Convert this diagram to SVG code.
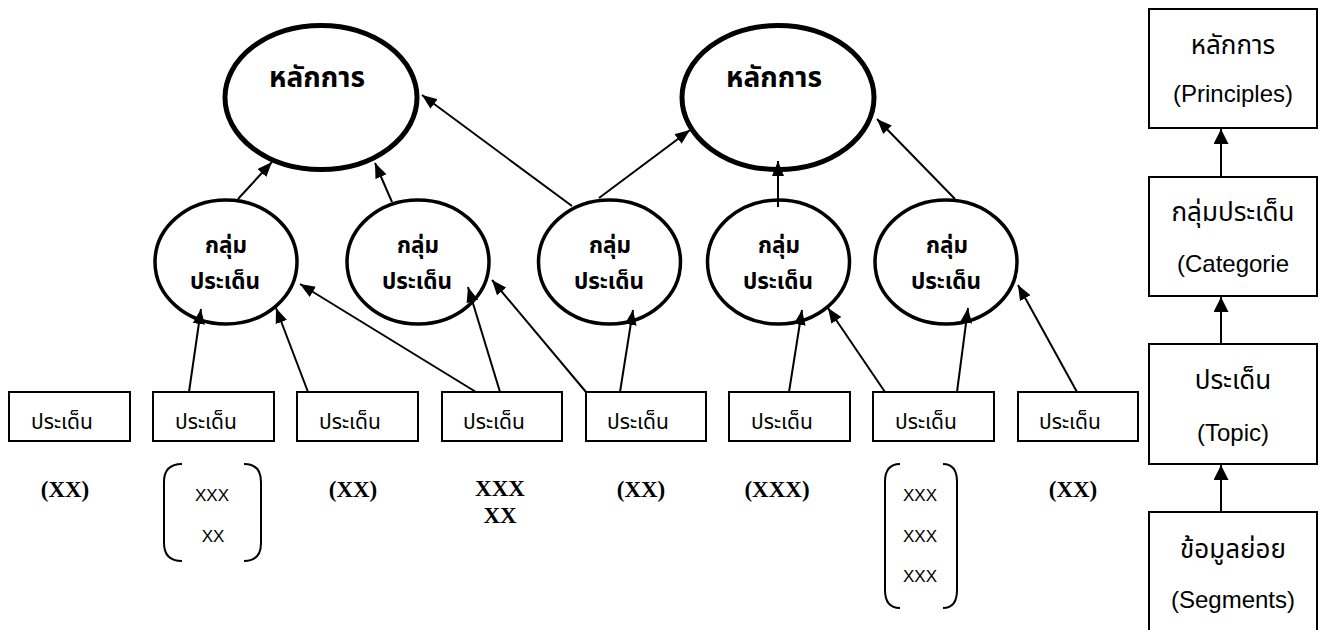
<svg xmlns="http://www.w3.org/2000/svg" width="1321" height="630" viewBox="0 0 1321 630">
<style>
.big{fill:#fff;stroke:#000;stroke-width:5}
.mid{fill:#fff;stroke:#000;stroke-width:3.5}
.box{fill:#fff;stroke:#000;stroke-width:2}
.th{font-family:"Noto Sans Thai","Noto Sans","DejaVu Sans",sans-serif;fill:#000;text-anchor:middle}
.tb{font-weight:bold}
.bt{font-size:28px}
.mt{font-size:22.5px}
.st{font-size:21px}
.lt{font-size:26px}
.lbl{font-family:"Liberation Serif",serif;font-weight:bold;font-size:23px;fill:#000;text-anchor:middle}
.sx{font-family:"Liberation Sans",sans-serif;font-size:17px;fill:#000;text-anchor:middle}
.leg{font-family:"Liberation Sans",sans-serif;font-size:24px;fill:#000;text-anchor:middle}
.br{fill:none;stroke:#000;stroke-width:2}
.cn{stroke:#000;stroke-width:2;fill:none;marker-end:url(#ah)}
.cl{stroke:#000;stroke-width:2;fill:none;marker-end:url(#ahL)}
</style>
<defs>
<marker id="ah" viewBox="0 0 15 12" refX="15" refY="6" markerWidth="15" markerHeight="12" markerUnits="userSpaceOnUse" orient="auto"><path d="M0,0 L15,6 L0,12 z" fill="#000"/></marker>
<marker id="ahL" viewBox="0 0 15 15" refX="15" refY="7.5" markerWidth="15" markerHeight="15" markerUnits="userSpaceOnUse" orient="auto"><path d="M0,0 L15,7.5 L0,15 z" fill="#000"/></marker>
</defs>
<rect width="1321" height="630" fill="#fff"/>

<g id="principle1"><ellipse class="big" cx="321" cy="97.5" rx="96" ry="72"/><text class="th tb bt" x="317" y="87">หลักการ</text></g>
<g id="principle2"><ellipse class="big" cx="778" cy="97.5" rx="96" ry="72"/><text class="th tb bt" x="774" y="87">หลักการ</text></g>

<g id="category1"><ellipse class="mid" cx="226" cy="262" rx="71" ry="62"/><text class="th tb mt" x="226" y="253">กลุ่ม</text><text class="th tb mt" x="225" y="289">ประเด็น</text></g>
<g id="category2"><ellipse class="mid" cx="418" cy="262" rx="71" ry="62"/><text class="th tb mt" x="418" y="253">กลุ่ม</text><text class="th tb mt" x="417" y="289">ประเด็น</text></g>
<g id="category3"><ellipse class="mid" cx="609.5" cy="262" rx="71" ry="62"/><text class="th tb mt" x="610" y="253">กลุ่ม</text><text class="th tb mt" x="609" y="289">ประเด็น</text></g>
<g id="category4"><ellipse class="mid" cx="778.5" cy="262" rx="71" ry="62"/><text class="th tb mt" x="779" y="253">กลุ่ม</text><text class="th tb mt" x="778" y="289">ประเด็น</text></g>
<g id="category5"><ellipse class="mid" cx="946" cy="262" rx="71" ry="62"/><text class="th tb mt" x="947" y="253">กลุ่ม</text><text class="th tb mt" x="946" y="289">ประเด็น</text></g>

<g id="topic1"><rect class="box" x="9" y="392" width="121" height="49"/><text class="th st" x="62" y="429">ประเด็น</text></g>
<g id="topic2"><rect class="box" x="153" y="392" width="121" height="49"/><text class="th st" x="206" y="429">ประเด็น</text></g>
<g id="topic3"><rect class="box" x="297" y="392" width="121" height="49"/><text class="th st" x="350" y="429">ประเด็น</text></g>
<g id="topic4"><rect class="box" x="442" y="392" width="120" height="49"/><text class="th st" x="494" y="429">ประเด็น</text></g>
<g id="topic5"><rect class="box" x="586" y="392" width="120" height="49"/><text class="th st" x="638" y="429">ประเด็น</text></g>
<g id="topic6"><rect class="box" x="729" y="392" width="121" height="49"/><text class="th st" x="782" y="429">ประเด็น</text></g>
<g id="topic7"><rect class="box" x="873" y="392" width="121" height="49"/><text class="th st" x="926" y="429">ประเด็น</text></g>
<g id="topic8"><rect class="box" x="1018" y="392" width="120" height="49"/><text class="th st" x="1070" y="429">ประเด็น</text></g>

<g id="counts">
<text class="lbl" x="65" y="497">(XX)</text>
<text class="lbl" x="353" y="497">(XX)</text>
<text class="lbl" x="500" y="496">XXX</text>
<text class="lbl" x="500" y="523">XX</text>
<text class="lbl" x="641" y="497">(XX)</text>
<text class="lbl" x="777" y="497">(XXX)</text>
<text class="lbl" x="1073" y="497">(XX)</text>
</g>

<g id="bracket1">
<path class="br" d="M182,464 Q164,464 164,482 L164,543 Q164,561 182,561"/>
<path class="br" d="M244,464 Q261,464 261,482 L261,543 Q261,561 244,561"/>
<text class="sx" x="212" y="501">XXX</text>
<text class="sx" x="213" y="542">XX</text>
</g>
<g id="bracket2">
<path class="br" d="M900,464 Q885,464 885,482 L885,590 Q885,608 900,608"/>
<path class="br" d="M943,464 Q957,464 957,482 L957,590 Q957,608 943,608"/>
<text class="sx" x="920" y="501">XXX</text>
<text class="sx" x="920" y="542">XXX</text>
<text class="sx" x="920" y="582">XXX</text>
</g>

<g id="legend-principles"><rect class="box" x="1149" y="9" width="168" height="119"/><text class="th lt" x="1233" y="54">หลักการ</text><text class="leg" x="1233" y="102">(Principles)</text></g>
<g id="legend-categories"><rect class="box" x="1149" y="177" width="168" height="119"/><text class="th lt" x="1233" y="221">กลุ่มประเด็น</text><text class="leg" x="1233" y="272">(Categorie</text></g>
<g id="legend-topic"><rect class="box" x="1149" y="344" width="168" height="120"/><text class="th lt" x="1233" y="389">ประเด็น</text><text class="leg" x="1233" y="441">(Topic)</text></g>
<g id="legend-segments"><rect class="box" x="1149" y="512" width="168" height="140"/><text class="th lt" x="1233" y="558">ข้อมูลย่อย</text><text class="leg" x="1233" y="608">(Segments)</text></g>

<g id="connectors">
<line class="cn" x1="238" y1="199" x2="272" y2="162"/>
<line class="cn" x1="392" y1="202" x2="375" y2="163"/>
<line class="cn" x1="572" y1="206" x2="422" y2="95"/>
<line class="cn" x1="599" y1="198" x2="690" y2="130"/>
<line class="cn" x1="778" y1="207" x2="778" y2="161"/>
<line class="cn" x1="955" y1="199" x2="877" y2="119"/>
<line class="cn" x1="189" y1="392" x2="201" y2="309"/>
<line class="cn" x1="308" y1="392" x2="276" y2="308"/>
<line class="cn" x1="476" y1="392" x2="300" y2="284"/>
<line class="cn" x1="500" y1="392" x2="468" y2="287"/>
<line class="cn" x1="586" y1="392" x2="492" y2="280"/>
<line class="cn" x1="620" y1="392" x2="633" y2="310"/>
<line class="cn" x1="789" y1="392" x2="802" y2="310"/>
<line class="cn" x1="885" y1="392" x2="828" y2="308"/>
<line class="cn" x1="957" y1="392" x2="968" y2="308"/>
<line class="cn" x1="1077" y1="392" x2="1018" y2="285"/>
<line class="cl" x1="1221" y1="177" x2="1221" y2="129"/>
<line class="cl" x1="1221" y1="344" x2="1221" y2="297"/>
<line class="cl" x1="1221" y1="512" x2="1221" y2="465"/>
</g>
</svg>
